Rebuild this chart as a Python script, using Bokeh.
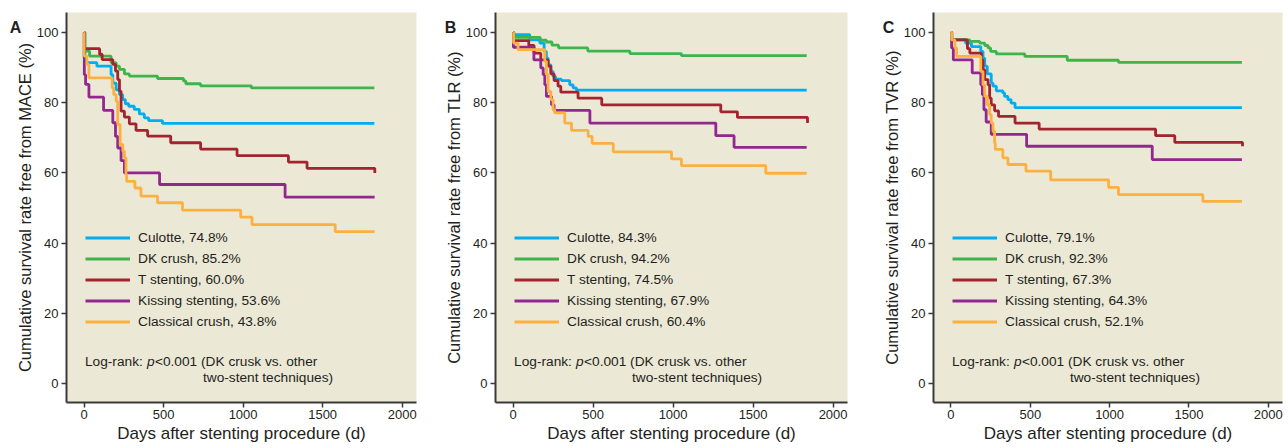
from bokeh.plotting import figure
from bokeh.layouts import row
from bokeh.models import Legend, LegendItem, Label, FixedTicker, Range1d
from bokeh.embed import file_html
from bokeh.resources import INLINE

FONT = "Liberation Sans"
TXT = "#231F20"
AX = "#3A3A3A"
BG = "#ECE8D6"

X_TICKS = [0, 500, 1000, 1500, 2000]
Y_TICKS = [0, 20, 40, 60, 80, 100]
GROUPS = ["Culotte", "DK crush", "T stenting", "Kissing stenting", "Classical crush"]
COLORS = ["#00AEEF", "#3DB54A", "#A3232E", "#92278F", "#FBB040"]

# ---- Panel A: MACE ----
A_culotte_t = [0, 6, 81, 170, 181, 202, 223, 243, 260, 281, 316, 348, 379, 406, 493, 1825]
A_culotte_s = [100, 91.4, 90.4, 88.0, 85.6, 83.7, 82.3, 80.9, 79.7, 79.0, 78.1, 76.8, 75.7, 74.9, 74.1, 74.1]
A_dk_t = [0, 5, 35, 170, 202, 223, 254, 285, 462, 625, 640, 733, 1052, 1825]
A_dk_s = [100, 94.7, 93.3, 91.4, 90.4, 89.5, 88.2, 87.6, 86.9, 86.2, 85.4, 84.8, 84.2, 84.2]
A_t_t = [0, 3, 98, 114, 181, 198, 212, 223, 233, 254, 285, 327, 400, 545, 733, 962, 1285, 1402, 1828]
A_t_s = [100, 95.4, 93.8, 92.3, 90.9, 89.0, 86.6, 83.3, 77.6, 75.9, 74.0, 72.1, 70.5, 68.6, 66.8, 64.9, 63.1, 61.3, 60.0]
A_kiss_t = [0, 1, 2, 10, 31, 123, 181, 198, 212, 233, 254, 475, 1264, 1827]
A_kiss_s = [100, 92.8, 88.0, 85.2, 81.6, 77.8, 74.3, 70.4, 67.1, 63.5, 60.0, 56.7, 53.1, 53.1]
A_cc_t = [0, 1, 18, 31, 177, 187, 202, 212, 227, 244, 254, 264, 268, 320, 358, 462, 619, 985, 1056, 1579, 1827]
A_cc_s = [100, 93.3, 90.9, 87.1, 84.2, 82.3, 80.4, 73.8, 68.1, 66.2, 64.3, 59.5, 57.6, 55.7, 53.4, 51.5, 49.4, 47.4, 45.3, 43.3, 43.3]
A_final = [74.8, 85.2, 60.0, 53.6, 43.8]

# ---- Panel B: TLR ----
B_culotte_t = [0, 5, 104, 167, 194, 208, 219, 236, 250, 265, 302, 354, 375, 396, 1835]
B_culotte_s = [100, 99.4, 97.9, 97.0, 94.6, 92.7, 90.8, 88.9, 87.5, 86.7, 86.3, 85.1, 84.2, 83.6, 83.6]
B_dk_t = [0, 5, 170, 208, 243, 284, 467, 730, 1052, 1835]
B_dk_s = [100, 98.6, 97.8, 97.3, 96.4, 95.6, 94.7, 94.0, 93.4, 93.4]
B_t_t = [0, 3, 98, 131, 173, 219, 236, 256, 281, 298, 406, 554, 1298, 1402, 1840]
B_t_s = [100, 97.7, 96.3, 94.1, 92.2, 90.4, 88.2, 86.3, 84.7, 83.0, 81.3, 79.4, 77.4, 75.8, 74.2]
B_kiss_t = [0, 2, 130, 173, 188, 198, 208, 240, 256, 480, 1267, 1381, 1835]
B_kiss_s = [100, 95.8, 92.2, 89.9, 88.0, 85.1, 81.8, 79.4, 77.8, 74.2, 70.6, 67.3, 67.3]
B_cc_t = [0, 3, 31, 198, 208, 219, 236, 250, 260, 323, 365, 469, 494, 626, 990, 1052, 1579, 1835]
B_cc_s = [100, 97.0, 95.1, 91.8, 88.0, 83.2, 80.9, 78.0, 77.1, 74.2, 72.1, 70.4, 68.4, 66.0, 64.0, 62.1, 59.9, 59.9]
B_final = [84.3, 94.2, 74.5, 67.9, 60.4]

# ---- Panel C: TVR ----
C_culotte_t = [0, 5, 92, 129, 188, 202, 213, 229, 254, 265, 286, 327, 338, 359, 379, 404, 1834]
C_culotte_s = [100, 98.0, 97.0, 96.0, 94.6, 92.7, 90.4, 88.2, 85.6, 84.7, 83.4, 82.8, 81.8, 80.9, 79.9, 78.6, 78.6]
C_dk_t = [0, 5, 119, 181, 213, 234, 250, 286, 466, 733, 1056, 1834]
C_dk_s = [100, 97.9, 97.5, 97.0, 96.3, 95.6, 94.6, 93.9, 93.2, 92.1, 91.5, 91.5]
C_t_t = [0, 5, 104, 119, 192, 202, 213, 234, 244, 254, 275, 300, 404, 556, 1290, 1411, 1838]
C_t_s = [100, 97.9, 95.4, 94.1, 92.2, 89.4, 86.6, 85.1, 81.3, 79.4, 77.7, 76.1, 74.2, 72.5, 70.6, 68.7, 67.6]
C_kiss_t = [0, 4, 15, 134, 188, 198, 208, 222, 254, 477, 1269, 1834]
C_kiss_s = [100, 95.6, 92.2, 88.5, 85.1, 82.3, 78.0, 74.5, 71.0, 67.6, 63.8, 63.8]
C_cc_t = [0, 4, 25, 36, 188, 202, 213, 229, 244, 254, 265, 275, 279, 327, 359, 473, 629, 994, 1056, 1588, 1834]
C_cc_s = [100, 97.9, 95.6, 93.2, 88.9, 85.1, 81.8, 79.4, 76.6, 74.2, 71.9, 68.5, 66.7, 64.3, 62.4, 60.5, 58.0, 55.9, 53.8, 51.9, 51.9]
C_final = [79.1, 92.3, 67.3, 64.3, 52.1]

X_LABEL = "Days after stenting procedure (d)"
H = 446


def make_panel(letter, letter_x, ylabel, ts, ss, finals, width, bl, br):
    p = figure(width=width, height=H,
               x_range=Range1d(-110, 2090), y_range=Range1d(-5.4, 105.7),
               output_backend="svg", toolbar_location=None,
               min_border_left=bl, min_border_right=br, min_border_top=12, min_border_bottom=44)
    p.background_fill_color = BG
    p.border_fill_color = "white"
    p.outline_line_color = None
    p.xgrid.visible = False
    p.ygrid.visible = False

    renderers = []
    for t, s, c in zip(ts, ss, COLORS):
        r = p.step(t, s, mode="after", line_color=c, line_width=2.8)
        renderers.append(r)

    p.xaxis.ticker = FixedTicker(ticks=X_TICKS)
    p.yaxis.ticker = FixedTicker(ticks=Y_TICKS)
    for ax in (p.xaxis[0], p.yaxis[0]):
        ax.axis_line_color = AX
        ax.axis_line_width = 2
        ax.major_tick_line_color = AX
        ax.major_tick_line_width = 1.5
        ax.major_tick_in = 0
        ax.major_tick_out = 5
        ax.minor_tick_line_color = None
        ax.major_label_text_font = FONT
        ax.major_label_text_font_size = "13px"
        ax.major_label_text_color = TXT
        ax.axis_label_text_font = FONT
        ax.axis_label_text_font_style = "normal"
        ax.axis_label_text_color = TXT
    p.xaxis.axis_label = X_LABEL
    p.yaxis.axis_label = ylabel
    p.xaxis.axis_label_text_font_size = "17px"
    p.yaxis.axis_label_text_font_size = "16.5px"
    p.xaxis.major_label_standoff = 2
    p.xaxis.axis_label_standoff = 2
    p.yaxis.major_label_standoff = 3
    p.yaxis.axis_label_standoff = 0

    items = [LegendItem(label=f"{g}, {v:.1f}%", renderers=[r])
             for g, v, r in zip(GROUPS, finals, renderers)]
    legend = Legend(items=items, location=(19, 70),
                    background_fill_alpha=0, border_line_color=None,
                    padding=0, margin=0, spacing=0,
                    glyph_width=45, glyph_height=21, label_height=21,
                    label_standoff=8, label_text_font=FONT,
                    label_text_font_size="13.7px", label_text_color=TXT)
    p.add_layout(legend)

    common = dict(text_font=FONT, text_font_size="13.7px", text_color=TXT,
                  text_baseline="middle")
    p.add_layout(Label(x=6, y=6.3, text="Log-rank: ", **common))
    p.add_layout(Label(x=6, y=6.3, x_offset=62, text="p", text_font_style="italic", **common))
    p.add_layout(Label(x=6, y=6.3, x_offset=70, text="<0.001 (DK crusk vs. other", **common))
    p.add_layout(Label(x=6, y=1.7, x_offset=118, text="two-stent techniques)", **common))

    p.add_layout(Label(x=letter_x, y=375, x_units="screen", y_units="screen", text=letter,
                       text_font=FONT, text_font_size="16px", text_font_style="bold",
                       text_color=TXT, text_align="center", text_baseline="middle"), "left")
    return p


pA = make_panel("A", 15, "Cumulative survival rate free from MACE (%)",
                [A_culotte_t, A_dk_t, A_t_t, A_kiss_t, A_cc_t],
                [A_culotte_s, A_dk_s, A_t_s, A_kiss_s, A_cc_s], A_final, 429, 64, 13)
pB = make_panel("B", 21, "Cumulative survival rate free from TLR (%)",
                [B_culotte_t, B_dk_t, B_t_t, B_kiss_t, B_cc_t],
                [B_culotte_s, B_dk_s, B_t_s, B_kiss_s, B_cc_s], B_final, 438, 65, 20)
pC = make_panel("C", 21, "Cumulative survival rate free from TVR (%)",
                [C_culotte_t, C_dk_t, C_t_t, C_kiss_t, C_cc_t],
                [C_culotte_s, C_dk_s, C_t_s, C_kiss_s, C_cc_s], C_final, 420, 65, 5)

layout = row(pA, pB, pC, spacing=0)
open("out.html", "w").write(file_html(layout, INLINE))
